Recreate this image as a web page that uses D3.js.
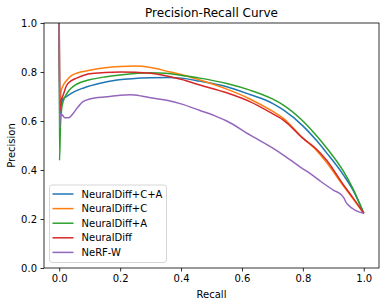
<!DOCTYPE html>
<html>
<head>
<meta charset="utf-8">
<script src="https://cdn.jsdelivr.net/npm/d3@7"></script>
<style>
  body { margin: 0; background: #fff; }
  svg { font-family: "DejaVu Sans", sans-serif; }
</style>
</head>
<body>
<div id="chart"></div>
<script>
// series names and colours (matplotlib tab10)
var seriesNames = ["NeuralDiff+C+A", "NeuralDiff+C", "NeuralDiff+A", "NeuralDiff", "NeRF-W"];
var seriesColors = ["#1f77b4", "#ff7f0e", "#2ca02c", "#d62728", "#9467bd"];

// recall / precision points
var recallCA = [0, 0.002, 0.006, 0.012, 0.024, 0.05, 0.08, 0.134, 0.19, 0.3, 0.36, 0.4, 0.46, 0.55, 0.626, 0.7, 0.736, 0.8, 0.845, 0.878, 0.933, 0.966, 1.0];
var precCA   = [1.0, 0.62, 0.66, 0.69, 0.70, 0.72, 0.735, 0.754, 0.767, 0.777, 0.778, 0.775, 0.763, 0.74, 0.708, 0.672, 0.645, 0.58, 0.52, 0.47, 0.38, 0.315, 0.223];

var recallC = [0, 0.002, 0.006, 0.013, 0.024, 0.04, 0.057, 0.1, 0.15, 0.2, 0.25, 0.3, 0.364, 0.4, 0.462, 0.55, 0.626, 0.7, 0.736, 0.8, 0.845, 0.878, 0.933, 0.966, 1.0];
var precC   = [1.0, 0.66, 0.72, 0.745, 0.765, 0.785, 0.795, 0.807, 0.817, 0.822, 0.824, 0.818, 0.80, 0.79, 0.767, 0.73, 0.69, 0.64, 0.611, 0.53, 0.48, 0.43, 0.335, 0.28, 0.223];

var recallA = [0, 0.001, 0.004, 0.008, 0.013, 0.024, 0.04, 0.057, 0.1, 0.15, 0.2, 0.3, 0.35, 0.407, 0.462, 0.55, 0.626, 0.7, 0.736, 0.8, 0.845, 0.878, 0.933, 0.966, 1.0];
var precA   = [1.0, 0.44, 0.58, 0.65, 0.68, 0.71, 0.735, 0.75, 0.768, 0.78, 0.788, 0.797, 0.795, 0.785, 0.775, 0.753, 0.726, 0.69, 0.665, 0.6, 0.54, 0.49, 0.395, 0.32, 0.223];

var recallND = [0, 0.002, 0.006, 0.013, 0.024, 0.04, 0.057, 0.1, 0.15, 0.2, 0.3, 0.4, 0.462, 0.55, 0.626, 0.7, 0.736, 0.8, 0.845, 0.878, 0.933, 0.966, 1.0];
var precND   = [1.0, 0.64, 0.68, 0.706, 0.745, 0.765, 0.775, 0.793, 0.798, 0.80, 0.795, 0.77, 0.747, 0.715, 0.679, 0.63, 0.604, 0.53, 0.485, 0.44, 0.34, 0.284, 0.223];

var recallW = [0, 0.001, 0.004, 0.01, 0.018, 0.03, 0.045, 0.06, 0.078, 0.1, 0.156, 0.2, 0.232, 0.27, 0.3, 0.364, 0.4, 0.462, 0.517, 0.55, 0.626, 0.7, 0.736, 0.8, 0.823, 0.86, 0.9, 0.927, 0.935, 0.945, 1.0];
var precW   = [1.0, 0.57, 0.63, 0.625, 0.613, 0.613, 0.63, 0.655, 0.679, 0.69, 0.699, 0.705, 0.707, 0.702, 0.695, 0.682, 0.67, 0.643, 0.618, 0.60, 0.543, 0.49, 0.461, 0.405, 0.386, 0.352, 0.318, 0.298, 0.285, 0.262, 0.223];

var xTicks = [0.0, 0.2, 0.4, 0.6, 0.8, 1.0];
var yTicks = [0.0, 0.2, 0.4, 0.6, 0.8, 1.0];

var allRecall = [recallCA, recallC, recallA, recallND, recallW];
var allPrec = [precCA, precC, precA, precND, precW];

var W = 386, H = 306;
var margin = {left: 44, top: 23, right: 7, bottom: 38};

var svg = d3.select("#chart").append("svg")
  .attr("width", W)
  .attr("height", H);

var x = d3.scaleLinear().domain([-0.05, 1.05]).range([margin.left, W - margin.right]);
var y = d3.scaleLinear().domain([0, 1]).range([H - margin.bottom, margin.top]);

svg.append("clipPath").attr("id", "plotclip")
  .append("rect")
  .attr("x", margin.left)
  .attr("y", margin.top)
  .attr("width", W - margin.left - margin.right)
  .attr("height", H - margin.top - margin.bottom);

var line = d3.line()
  .x(function(d) { return x(d[0]); })
  .y(function(d) { return y(d[1]); })
  .curve(d3.curveMonotoneX);

var plot = svg.append("g").attr("clip-path", "url(#plotclip)");

seriesNames.forEach(function(name, i) {
  var pts = allRecall[i].map(function(r, j) { return [r, allPrec[i][j]]; });
  plot.append("path")
    .datum(pts)
    .attr("d", line)
    .attr("fill", "none")
    .attr("stroke", seriesColors[i])
    .attr("stroke-width", 1.5)
    .attr("stroke-linejoin", "round");
});

// axes
var xAxis = svg.append("g")
  .attr("transform", "translate(0," + (H - margin.bottom) + ")")
  .call(d3.axisBottom(x).tickValues(xTicks).tickFormat(d3.format(".1f")).tickSizeOuter(0).tickSize(3.5).tickPadding(3.5));

var yAxis = svg.append("g")
  .attr("transform", "translate(" + margin.left + ",0)")
  .call(d3.axisLeft(y).tickValues(yTicks).tickFormat(d3.format(".1f")).tickSizeOuter(0).tickSize(3.5).tickPadding(3.5));

[xAxis, yAxis].forEach(function(a) {
  a.selectAll("text").attr("font-size", 10).attr("fill", "#000").attr("font-family", "DejaVu Sans");
  a.selectAll("line").attr("stroke", "#000").attr("stroke-width", 0.8);
  a.select(".domain").remove();
});

// frame
svg.append("rect")
  .attr("x", margin.left)
  .attr("y", margin.top)
  .attr("width", W - margin.left - margin.right)
  .attr("height", H - margin.top - margin.bottom)
  .attr("fill", "none")
  .attr("stroke", "#000")
  .attr("stroke-width", 0.8);

// titles
svg.append("text")
  .attr("x", (margin.left + W - margin.right) / 2)
  .attr("y", 17)
  .attr("text-anchor", "middle")
  .attr("font-size", 12)
  .text("Precision-Recall Curve");

svg.append("text")
  .attr("x", (margin.left + W - margin.right) / 2)
  .attr("y", 298)
  .attr("text-anchor", "middle")
  .attr("font-size", 10)
  .text("Recall");

svg.append("text")
  .attr("transform", "translate(15," + ((margin.top + H - margin.bottom) / 2) + ") rotate(-90)")
  .attr("text-anchor", "middle")
  .attr("font-size", 10)
  .text("Precision");

// legend
var legend = svg.append("g").attr("transform", "translate(49.5,185)");
legend.append("rect")
  .attr("width", 117)
  .attr("height", 77.5)
  .attr("rx", 2.5)
  .attr("fill", "#fff")
  .attr("fill-opacity", 0.8)
  .attr("stroke", "#ccc")
  .attr("stroke-width", 0.8);

seriesNames.forEach(function(name, i) {
  var cy = 9 + i * 14.6;
  legend.append("line")
    .attr("x1", 3).attr("x2", 24)
    .attr("y1", cy).attr("y2", cy)
    .attr("stroke", seriesColors[i])
    .attr("stroke-width", 1.5);
  legend.append("text")
    .attr("x", 32)
    .attr("y", cy + 3.6)
    .attr("font-size", 10)
    .text(name);
});
</script>
</body>
</html>
